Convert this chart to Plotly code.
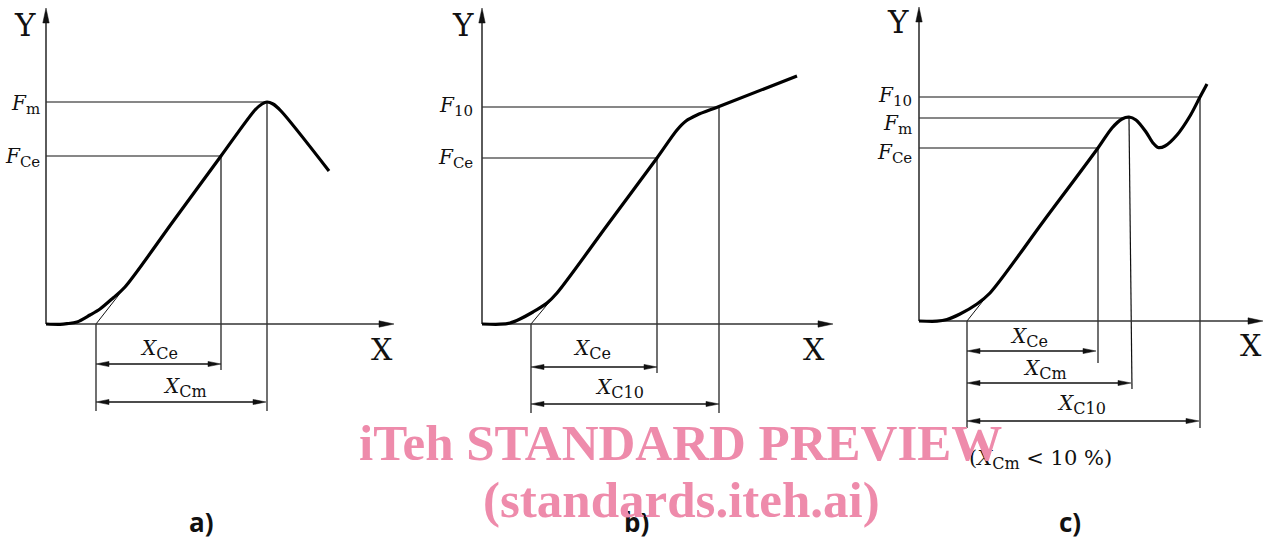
import plotly.graph_objects as go

# ---------------- data (diagram units; y grows downward like the page) ----------------
# Panel a)
A_ORIGIN = [46, 324]
A_AXIS_TIP_X = 394
A_AXIS_TIP_Y = 8
A_CURVE_X = [46, 60, 67, 77, 90, 100, 113, 125, 173, 221, 255, 262, 267, 273, 281, 329]
A_CURVE_Y = [324, 324.3, 323.7, 322, 315, 309, 298, 287, 221.5, 156, 110, 104, 102, 104, 111, 171]
A_TANGENT_X = [96, 125]
A_TANGENT_Y = [324, 287]
A_LEVEL_LABELS = ["m", "Ce"]
A_LEVEL_Y = [102, 156]
A_LEVEL_X = [267, 221]
A_DROP_X_TOP = [221, 267]
A_DROP_X_BOT = [221, 267]
A_DROP_Y_TOP = [156, 102]
A_DROP_Y_BOT = [370, 411]
A_START_X = 96
A_START_BOT = 411
A_DIM_LABELS = ["Ce", "Cm"]
A_DIM_END = [221, 266]
A_DIM_Y = [364, 402]
A_DIM_LABEL_X = [159, 185]
A_DIM_LABEL_Y = [349, 387]

# Panel b)
B_ORIGIN = [482, 324]
B_AXIS_TIP_X = 833
B_AXIS_TIP_Y = 8
B_CURVE_X = [482, 500, 510, 520, 533, 547, 557, 607, 657, 677, 686, 697, 719, 797]
B_CURVE_Y = [324, 324.2, 323, 319, 312, 303, 293, 225.5, 158, 130, 121, 115, 106.5, 76]
B_TANGENT_X = [531, 556]
B_TANGENT_Y = [324, 294]
B_LEVEL_LABELS = ["10", "Ce"]
B_LEVEL_Y = [107, 158]
B_LEVEL_X = [719, 657]
B_DROP_X_TOP = [657, 719]
B_DROP_X_BOT = [657, 719]
B_DROP_Y_TOP = [158, 107]
B_DROP_Y_BOT = [373, 413]
B_START_X = 531
B_START_BOT = 413
B_DIM_LABELS = ["Ce", "C10"]
B_DIM_END = [657, 719]
B_DIM_Y = [367, 404]
B_DIM_LABEL_X = [592, 619]
B_DIM_LABEL_Y = [349, 388]

# Panel c)
C_ORIGIN = [919, 321]
C_AXIS_TIP_X = 1263
C_AXIS_TIP_Y = 7
C_CURVE_X = [919, 937, 947, 960, 977, 990, 1044, 1098, 1112, 1122, 1129, 1136, 1146, 1153, 1158, 1165, 1177, 1190, 1200, 1207]
C_CURVE_Y = [321, 321.2, 319.5, 314, 304, 293, 220.5, 148, 128, 119, 117, 120, 132, 143, 147.5, 146, 135, 116, 97, 84]
C_TANGENT_X = [967, 990]
C_TANGENT_Y = [321, 292]
C_LEVEL_LABELS = ["10", "m", "Ce"]
C_LEVEL_Y = [97, 118, 148]
C_LEVEL_X = [1200, 1129, 1098]
C_DROP_X_TOP = [1098, 1129, 1200]
C_DROP_X_BOT = [1098, 1132, 1200]
C_DROP_Y_TOP = [148, 118, 97]
C_DROP_Y_BOT = [363, 389, 428]
C_START_X = 967
C_START_BOT = 428
C_DIM_LABELS = ["Ce", "Cm", "C10"]
C_DIM_END = [1096, 1131, 1199]
C_DIM_Y = [351, 383, 421]
C_DIM_LABEL_X = [1029, 1045, 1081]
C_DIM_LABEL_Y = [337, 369, 404]

# label positions
LEVEL_LABEL_RIGHT = [41, 474, 913]
LEVEL_LABEL_DY = [[104, 157], [106, 158], [96, 124, 153]]
Y_LABEL_POS = [[25, 25], [463, 25], [898, 22]]
X_LABEL_POS = [[382, 349], [814, 349], [1251, 345]]
PANEL_LABELS = ["a)", "b)", "c)"]
PANEL_LABEL_X = [201, 636, 1070]
PANEL_LABEL_Y = 522
NOTE_SUB = "Cm"
NOTE_REST = " < 10 %)"
NOTE_POS = [1040, 459]
WATERMARK = ["iTeh STANDARD PREVIEW", "(standards.iteh.ai)"]
WATERMARK_POS = [[680, 443], [681, 500]]

# ---------------- styles ----------------
INK = "#111111"
AXIS_INK = "#333333"
SERIF = "DejaVu Serif"
PINK = "rgb(238,139,171)"
HEAD_LEN = 13
HEAD_HALF = 2.6

fig = go.Figure()
ann = []
heads_x, heads_y = [], []


def add_line(xs, ys, width=1.2, color=INK):
    fig.add_trace(go.Scatter(x=xs, y=ys, mode="lines", line=dict(color=color, width=width),
                             hoverinfo="skip", showlegend=False))


def add_head(tx, ty, dx, dy, length=HEAD_LEN, half=HEAD_HALF):
    bx, by = tx - dx * length, ty - dy * length
    px, py = -dy * half, dx * half
    heads_x.extend([tx, bx + px, bx - px, tx, None])
    heads_y.extend([ty, by + py, by - py, ty, None])


def add_text(x, y, text, size=20, xanchor="center", family=SERIF, color=INK, bold=False):
    ann.append(dict(x=x, y=y, xref="x", yref="y", text=f"<b>{text}</b>" if bold else text,
                    showarrow=False, xanchor=xanchor, yanchor="middle", borderpad=0,
                    font=dict(family=family, size=size, color=color)))


def sym(letter, sub, sub_size):
    return f"<i>{letter}</i><sub><span style='font-size:{sub_size}px'>{sub}</span></sub>"


panels = [
    (A_ORIGIN, A_AXIS_TIP_X, A_AXIS_TIP_Y, A_CURVE_X, A_CURVE_Y, A_TANGENT_X, A_TANGENT_Y,
     A_LEVEL_LABELS, A_LEVEL_Y, A_LEVEL_X, A_DROP_X_TOP, A_DROP_X_BOT, A_DROP_Y_TOP, A_DROP_Y_BOT,
     A_START_X, A_START_BOT, A_DIM_LABELS, A_DIM_END, A_DIM_Y, A_DIM_LABEL_X, A_DIM_LABEL_Y),
    (B_ORIGIN, B_AXIS_TIP_X, B_AXIS_TIP_Y, B_CURVE_X, B_CURVE_Y, B_TANGENT_X, B_TANGENT_Y,
     B_LEVEL_LABELS, B_LEVEL_Y, B_LEVEL_X, B_DROP_X_TOP, B_DROP_X_BOT, B_DROP_Y_TOP, B_DROP_Y_BOT,
     B_START_X, B_START_BOT, B_DIM_LABELS, B_DIM_END, B_DIM_Y, B_DIM_LABEL_X, B_DIM_LABEL_Y),
    (C_ORIGIN, C_AXIS_TIP_X, C_AXIS_TIP_Y, C_CURVE_X, C_CURVE_Y, C_TANGENT_X, C_TANGENT_Y,
     C_LEVEL_LABELS, C_LEVEL_Y, C_LEVEL_X, C_DROP_X_TOP, C_DROP_X_BOT, C_DROP_Y_TOP, C_DROP_Y_BOT,
     C_START_X, C_START_BOT, C_DIM_LABELS, C_DIM_END, C_DIM_Y, C_DIM_LABEL_X, C_DIM_LABEL_Y),
]

for i, (org, tipx, tipy, cx, cy, tx, ty, lvl_lab, lvl_y, lvl_x, dxt, dxb, dyt, dyb,
        sx, sbot, dim_lab, dim_end, dim_y, dlx, dly) in enumerate(panels):
    ox, oy = org
    for ly, lx in zip(lvl_y, lvl_x):
        add_line([ox, lx], [ly, ly])
    for xt, xb, yt, yb in zip(dxt, dxb, dyt, dyb):
        add_line([xt, xb], [yt, yb])
    add_line([sx, sx], [oy, sbot])
    add_line(tx, ty, width=1.0)
    add_line([ox, ox], [oy, tipy + HEAD_LEN - 2], width=1.6, color=AXIS_INK)
    add_line([ox, tipx - HEAD_LEN + 2], [oy, oy], width=1.6, color=AXIS_INK)
    add_head(ox, tipy, 0, -1, length=15, half=3.2)
    add_head(tipx, oy, 1, 0, length=15, half=3.2)
    fig.add_trace(go.Scatter(x=cx, y=cy, mode="lines",
                             line=dict(color="black", width=3.2, shape="spline", smoothing=0.85),
                             hoverinfo="skip", showlegend=False))
    for de, dy in zip(dim_end, dim_y):
        add_line([sx + HEAD_LEN - 2, de - HEAD_LEN + 2], [dy, dy], width=1.3)
        add_head(sx, dy, -1, 0)
        add_head(de, dy, 1, 0)
    add_text(Y_LABEL_POS[i][0], Y_LABEL_POS[i][1], "Y", size=31)
    add_text(X_LABEL_POS[i][0], X_LABEL_POS[i][1], "X", size=30)
    for lab, yy in zip(lvl_lab, LEVEL_LABEL_DY[i]):
        add_text(LEVEL_LABEL_RIGHT[i], yy, sym("F", lab, 15), size=20, xanchor="right")
    for lab, xx, yy in zip(dim_lab, dlx, dly):
        add_text(xx, yy, sym("X", lab, 16), size=20)
    add_text(PANEL_LABEL_X[i], PANEL_LABEL_Y, PANEL_LABELS[i], size=26, family="Open Sans", bold=True)

fig.add_trace(go.Scatter(x=heads_x, y=heads_y, mode="lines", fill="toself", fillcolor=INK,
                         line=dict(color=INK, width=0.5), hoverinfo="skip", showlegend=False))

add_text(NOTE_POS[0], NOTE_POS[1], "(" + sym("X", NOTE_SUB, 16) + NOTE_REST, size=21)

for txt, pos in zip(WATERMARK, WATERMARK_POS):
    add_text(pos[0], pos[1], txt, size=51, family="Liberation Serif", color=PINK, bold=True)

fig.update_layout(
    width=1264, height=539,
    margin=dict(l=0, r=0, t=0, b=0),
    paper_bgcolor="white", plot_bgcolor="white",
    xaxis=dict(range=[0, 1264], visible=False, fixedrange=True),
    yaxis=dict(range=[539, 0], visible=False, fixedrange=True),
    annotations=ann,
    showlegend=False,
)

fig.write_html(
    "out.html",
    config={"displayModeBar": False},
    post_script="document.body.style.margin='0';document.body.style.overflow='hidden';",
)
